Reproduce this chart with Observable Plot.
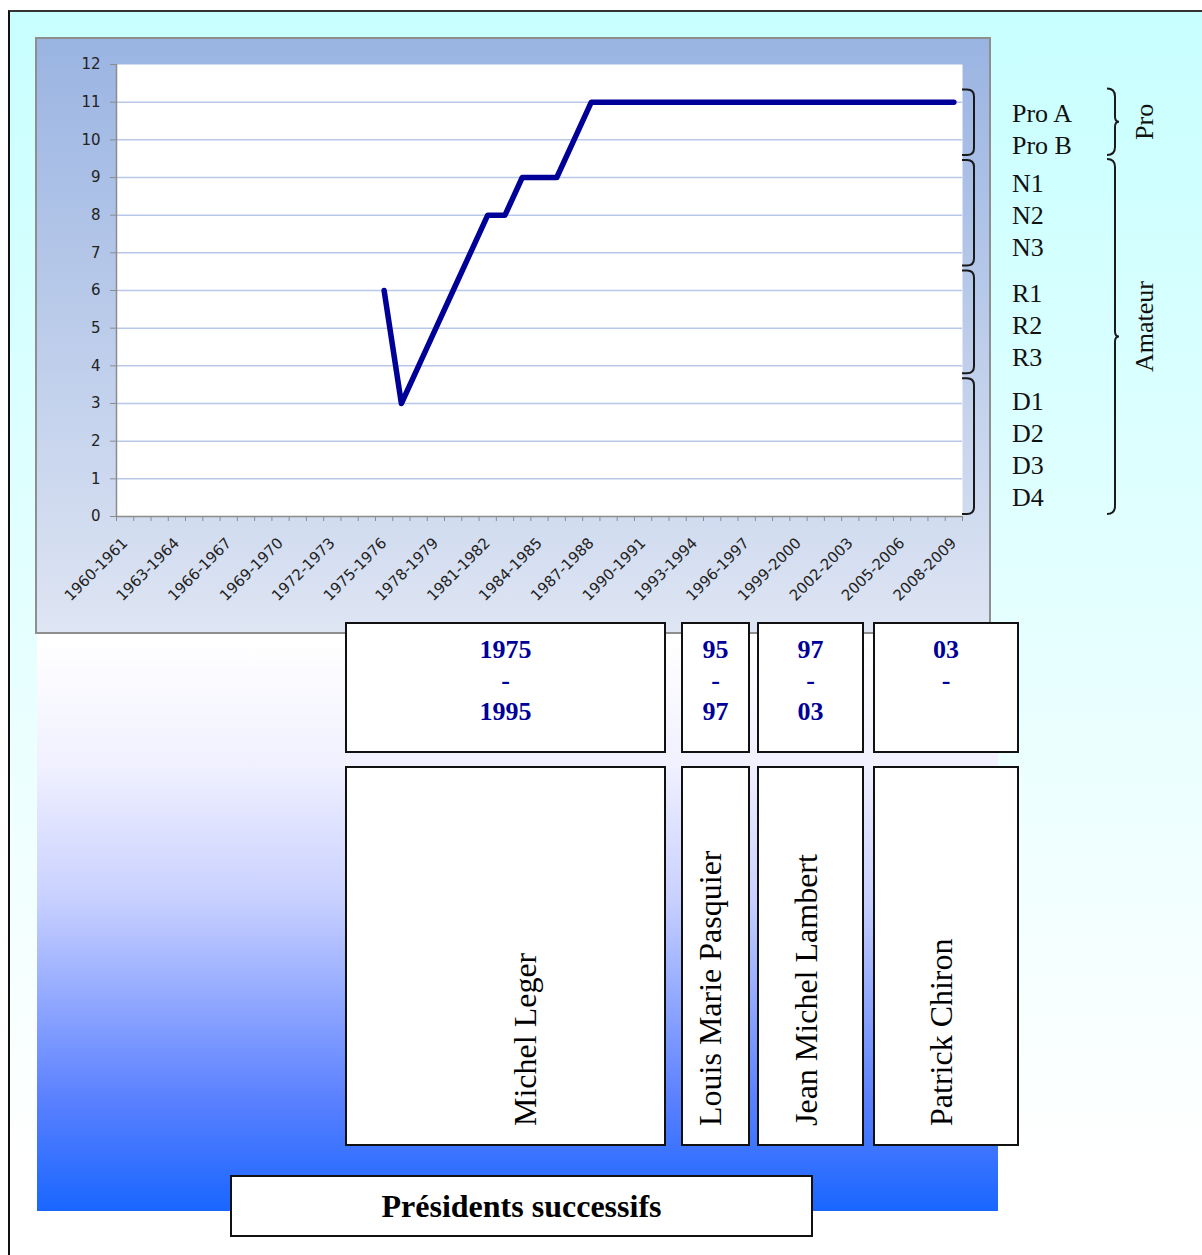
<!DOCTYPE html>
<html>
<head>
<meta charset="utf-8">
<script src="https://cdn.jsdelivr.net/npm/d3@7"></script>
<script src="https://cdn.jsdelivr.net/npm/@observablehq/plot@0.6"></script>
<style>
html, body { margin: 0; padding: 0; }
body { width: 1202px; height: 1255px; overflow: hidden; position: relative; background: #fff;
  font-family: "Liberation Serif", "Times New Roman", serif; }
#frame { position: absolute; left: 8px; top: 10px; width: 1300px; height: 1300px;
  border-left: 2px solid #111; border-top: 2px solid #333;
  background: linear-gradient(to bottom, #c8ffff 0px, #ffffff 1150px); }
#blue { position: absolute; left: 37px; top: 634px; width: 961px; height: 577px;
  background: linear-gradient(to bottom, #ffffff 0px, #ffffff 6px, #f0f0ff 133px, #c8d0ff 266px, #5a80ff 466px, #1966ff 577px); }
#panel { position: absolute; left: 35px; top: 37px; width: 956px; height: 597px; box-sizing: border-box;
  border: 2px solid #8e8e8e; background: linear-gradient(to bottom, #9ab4e2, #dee5f3); }
#chart { position: absolute; left: 35px; top: 37px; }
#chart svg { overflow: visible; }
.box { position: absolute; box-sizing: border-box; border: 2px solid #111; background: #fff; }
.years { text-align: center; font-weight: bold; font-size: 26px; line-height: 31px; color: #000099; padding-top: 10px; }
.name { position: absolute; white-space: nowrap; font-size: 32px; line-height: 32px; color: #000;
  transform-origin: 0 0; transform: rotate(-90deg); }
#caption { position: absolute; left: 230px; top: 1175px; width: 583px; height: 62px; box-sizing: border-box;
  border: 2px solid #111; background: #fff; text-align: center; font-weight: bold; font-size: 32px; line-height: 58px; color: #000; }
</style>
</head>
<body>
<div id="frame"></div>
<div id="blue"></div>
<div id="panel"></div>
<div id="chart"></div>
<div id="boxes"></div>
<div id="caption">Présidents successifs</div>
<script>
// ---------- data ----------
const seasons = [
  "1960-1961","1961-1962","1962-1963","1963-1964","1964-1965","1965-1966","1966-1967","1967-1968",
  "1968-1969","1969-1970","1970-1971","1971-1972","1972-1973","1973-1974","1974-1975","1975-1976",
  "1976-1977","1977-1978","1978-1979","1979-1980","1980-1981","1981-1982","1982-1983","1983-1984",
  "1984-1985","1985-1986","1986-1987","1987-1988","1988-1989","1989-1990","1990-1991","1991-1992",
  "1992-1993","1993-1994","1994-1995","1995-1996","1996-1997","1997-1998","1998-1999","1999-2000",
  "2000-2001","2001-2002","2002-2003","2003-2004","2004-2005","2005-2006","2006-2007","2007-2008",
  "2008-2009"
];
const xTickLabels = ["1960-1961","1963-1964","1966-1967","1969-1970","1972-1973","1975-1976","1978-1979",
  "1981-1982","1984-1985","1987-1988","1990-1991","1993-1994","1996-1997","1999-2000","2002-2003",
  "2005-2006","2008-2009"];
const yTicks = [0,1,2,3,4,5,6,7,8,9,10,11,12];

const lineSeasons = ["1975-1976","1976-1977","1977-1978","1978-1979","1979-1980","1980-1981","1981-1982",
  "1982-1983","1983-1984","1984-1985","1985-1986","1986-1987","1987-1988","1988-1989","1989-1990",
  "1990-1991","1991-1992","1992-1993","1993-1994","1994-1995","1995-1996","1996-1997","1997-1998",
  "1998-1999","1999-2000","2000-2001","2001-2002","2002-2003","2003-2004","2004-2005","2005-2006",
  "2006-2007","2007-2008","2008-2009"];
const lineLevels = [6,3,4,5,6,7,8,8,9,9,9,10,11,11,11,11,11,11,11,11,11,11,11,11,11,11,11,11,11,11,11,11,11,11];

const divisionLabels = [["Pro A","Pro B"],["N1","N2","N3"],["R1","R2","R3"],["D1","D2","D3","D4"]];
const divisionTop = [11.4, 9.53, 6.6, 3.74];
const divisionBottom = [9.53, 6.6, 3.74, 0];
const statusLabels = ["Pro", "Amateur"];
const statusTop = [11.4, 9.53];
const statusBottom = [9.53, 0];

const presidents = ["Michel Leger", "Louis Marie Pasquier", "Jean Michel Lambert", "Patrick Chiron"];
const termStart = ["1975", "95", "97", "03"];
const termEnd = ["1995", "97", "03", ""];

// ---------- layout (not data) ----------
const boxLeft = [345, 681, 757, 873];
const boxRight = [666, 750, 864, 1019];
const nameBaselineX = [536, 721, 817, 952];
const statusShift = [0, -10];

const data = lineSeasons.map((s, i) => ({season: s, level: lineLevels[i]}));
const idx = s => seasons.indexOf(s) + 0.5;

function annotations(index, scales, values, dimensions) {
  const x0 = dimensions.width - dimensions.marginRight;
  const y = scales.y;
  const g = d3.create("svg:g");
  const serif = '"Liberation Serif", "Times New Roman", serif';
  divisionLabels.forEach((labels, i) => {
    const yT = y(divisionTop[i]) + 3, yB = y(divisionBottom[i]) - 2;
    g.append("path")
      .attr("d", `M${x0},${yT}H${x0+5}Q${x0+12},${yT} ${x0+12},${yT+7}V${yB-7}Q${x0+12},${yB} ${x0+5},${yB}H${x0}`)
      .attr("fill", "none").attr("stroke", "#1a1a1a").attr("stroke-width", 2);
    labels.forEach((lab, j) => {
      g.append("text").attr("x", x0 + 50).attr("y", yT + 32 + j * 32)
        .style("font-family", serif).style("font-size", "26px").style("text-anchor", "start")
        .attr("fill", "#111").text(lab);
    });
  });
  statusLabels.forEach((lab, i) => {
    const yT = y(statusTop[i]) + 2, yB = y(statusBottom[i]) - 2, ym = (yT + yB) / 2;
    const xb = x0 + 145;
    g.append("path")
      .attr("d", `M${xb},${yT}Q${xb+8},${yT} ${xb+8},${yT+8}V${ym-5}Q${xb+8},${ym} ${xb+12},${ym}Q${xb+8},${ym} ${xb+8},${ym+5}V${yB-8}Q${xb+8},${yB} ${xb},${yB}`)
      .attr("fill", "none").attr("stroke", "#1a1a1a").attr("stroke-width", 2);
    g.append("text").attr("transform", `translate(${x0 + 191},${ym + statusShift[i]}) rotate(-90)`)
      .style("text-anchor", "middle").style("font-family", serif).style("font-size", "26px")
      .attr("fill", "#111").text(lab);
  });
  return g.node();
}

const chart = Plot.plot({
  width: 1165,
  height: 597,
  marginLeft: 81,
  marginRight: 238,
  marginTop: 27,
  marginBottom: 118,
  style: {background: "transparent", fontFamily: '"DejaVu Sans", sans-serif', fontSize: "14px", color: "#222", overflow: "visible"},
  x: {type: "linear", domain: [0, seasons.length]},
  y: {domain: [0, 12]},
  marks: [
    Plot.frame({fill: "white", stroke: null}),
    Plot.gridY(yTicks.filter(v => v > 0 && v < 12), {stroke: "#b7c8ea", strokeOpacity: 1, strokeWidth: 1.5}),
    Plot.axisY(yTicks, {tickSize: 6, tickPadding: 10, stroke: "#8c8c8c", fill: "#222", fontSize: 15, label: null}),
    Plot.axisX(d3.range(seasons.length + 1), {tickSize: 5, tickFormat: () => "", stroke: "#8c8c8c", label: null}),
    Plot.axisX(xTickLabels.map(idx), {tickSize: 0, tickPadding: 24, tickRotate: -45, fill: "#222", fontSize: 15,
      tickFormat: v => seasons[Math.floor(v)], label: null}),
    Plot.ruleX([0], {stroke: "#8c8c8c", strokeWidth: 1.5}),
    Plot.ruleY([0], {stroke: "#8c8c8c", strokeWidth: 1.5}),
    Plot.line(data, {x: d => idx(d.season), y: "level", stroke: "#000099", strokeWidth: 5.5,
      strokeLinejoin: "round", strokeLinecap: "round"}),
    annotations
  ]
});
document.getElementById("chart").appendChild(chart);

// ---------- president boxes ----------
const boxes = document.getElementById("boxes");
presidents.forEach((name, i) => {
  const yb = document.createElement("div");
  yb.className = "box years";
  Object.assign(yb.style, {left: boxLeft[i] + "px", top: "622px", width: (boxRight[i] - boxLeft[i]) + "px", height: "131px"});
  yb.innerHTML = [termStart[i], "-", termEnd[i]].filter(t => t !== "").join("<br>");
  boxes.appendChild(yb);
  const nb = document.createElement("div");
  nb.className = "box";
  Object.assign(nb.style, {left: boxLeft[i] + "px", top: "766px", width: (boxRight[i] - boxLeft[i]) + "px", height: "380px"});
  boxes.appendChild(nb);
  const t = document.createElement("div");
  t.className = "name";
  t.textContent = name;
  Object.assign(t.style, {left: (nameBaselineX[i] - 27) + "px", top: "1126px"});
  boxes.appendChild(t);
});
</script>
</body>
</html>
